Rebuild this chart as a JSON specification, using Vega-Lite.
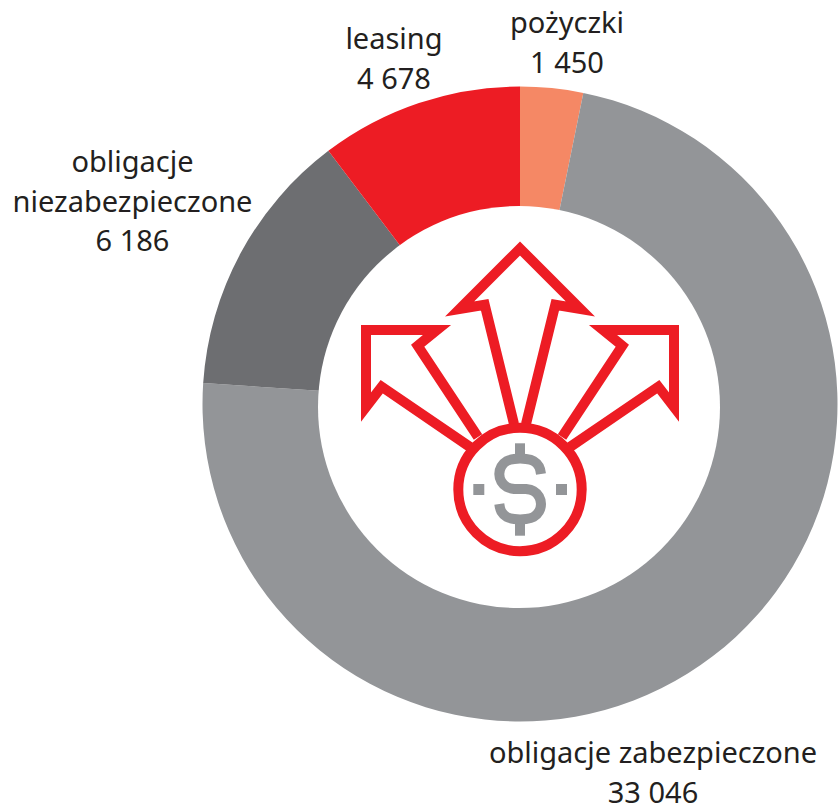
{
"$schema":"https://vega.github.io/schema/vega-lite/v6.json",
"width":838,"height":807,"padding":0,
"autosize":{"type":"none"},
"background":"white",
"view":{"stroke":null},
"datasets":{
"segments":[
{"kategoria":"pożyczki","wartosc":1450,"kolejnosc":1,"x":0,"y":0},
{"kategoria":"obligacje zabezpieczone","wartosc":33046,"kolejnosc":2,"x":0,"y":0},
{"kategoria":"obligacje niezabezpieczone","wartosc":6186,"kolejnosc":3,"x":0,"y":0},
{"kategoria":"leasing","wartosc":4678,"kolejnosc":4,"x":0,"y":0}],
"hole":[{"x":-1,"y":-3}],
"labels":[
{"etykieta":"pożyczki\n1 450","x":47,"y":371},
{"etykieta":"leasing\n4 678","x":-126,"y":355},
{"etykieta":"obligacje\nniezabezpieczone\n6 186","x":-387.5,"y":232},
{"etykieta":"obligacje zabezpieczone\n33 046","x":133,"y":-359}],
"arrows":[
{"p":"c","s":1,"x":-6,"y":-20},{"p":"c","s":2,"x":-35.3,"y":99.3},{"p":"c","s":3,"x":-60.4,"y":95.1},{"p":"c","s":4,"x":0,"y":155.5},{"p":"c","s":5,"x":60.4,"y":95.1},{"p":"c","s":6,"x":35.3,"y":99.3},{"p":"c","s":7,"x":6,"y":-20},
{"p":"l","s":1,"x":-50,"y":-43},{"p":"l","s":2,"x":-138.3,"y":17.3},{"p":"l","s":3,"x":-154,"y":-3},{"p":"l","s":4,"x":-154,"y":74},{"p":"l","s":5,"x":-83,"y":74},{"p":"l","s":6,"x":-102.3,"y":58.3},{"p":"l","s":7,"x":-42,"y":-33},
{"p":"r","s":1,"x":50,"y":-43},{"p":"r","s":2,"x":138.3,"y":17.3},{"p":"r","s":3,"x":154,"y":-3},{"p":"r","s":4,"x":154,"y":74},{"p":"r","s":5,"x":83,"y":74},{"p":"r","s":6,"x":102.3,"y":58.3},{"p":"r","s":7,"x":42,"y":-33}],
"coin":[{"x":0,"y":-85.5}],
"dollar":[
{"s":1,"x":21,"y":-70},{"s":2,"x":19,"y":-62.5},{"s":3,"x":13.5,"y":-57},{"s":4,"x":6,"y":-55},{"s":5,"x":-5.7,"y":-55},{"s":6,"x":-13.2,"y":-57},{"s":7,"x":-18.7,"y":-62.5},{"s":8,"x":-20.7,"y":-70},{"s":9,"x":-18.7,"y":-77.5},{"s":10,"x":-13.2,"y":-83},{"s":11,"x":-5.7,"y":-85},{"s":12,"x":6,"y":-85},{"s":13,"x":13.5,"y":-87},{"s":14,"x":19,"y":-92.5},{"s":15,"x":21,"y":-100},{"s":16,"x":19,"y":-107.5},{"s":17,"x":13.5,"y":-113},{"s":18,"x":6,"y":-115},{"s":19,"x":-5.7,"y":-115},{"s":20,"x":-13.2,"y":-113},{"s":21,"x":-18.7,"y":-107.5},{"s":22,"x":-20.7,"y":-100}],
"bars":[
{"p":"t","s":1,"x":0,"y":-39.3},{"p":"t","s":2,"x":0,"y":-52.7},
{"p":"b","s":1,"x":0,"y":-119.3},{"p":"b","s":2,"x":0,"y":-131.7}],
"dots":[{"x":-41.2,"y":-85.5},{"x":41.5,"y":-85.5}]
},
"encoding":{
"x":{"field":"x","type":"quantitative","axis":null,"scale":{"domain":[-520,318],"nice":false,"zero":false}},
"y":{"field":"y","type":"quantitative","axis":null,"scale":{"domain":[-403,404],"nice":false,"zero":false}}
},
"layer":[
{"data":{"name":"segments"},
"mark":{"type":"arc","radius":317.5,"radius2":190},
"encoding":{
"theta":{"field":"wartosc","type":"quantitative","stack":true},
"order":{"field":"kolejnosc","type":"quantitative"},
"color":{"field":"kategoria","type":"nominal","legend":null,
"scale":{"domain":["pożyczki","obligacje zabezpieczone","obligacje niezabezpieczone","leasing"],"range":["#f58865","#939598","#6d6e71","#ed1c24"]}}
}},
{"data":{"name":"hole"},
"mark":{"type":"point","shape":"circle","filled":true,"size":161604,"color":"white","opacity":1}},
{"data":{"name":"arrows"},
"mark":{"type":"line","color":"#ed1c24","strokeWidth":10,"strokeJoin":"miter","strokeMiterLimit":20,"strokeCap":"butt"},
"encoding":{"detail":{"field":"p"},"order":{"field":"s","type":"quantitative"}}},
{"data":{"name":"coin"},
"mark":{"type":"point","shape":"circle","filled":false,"size":15228,"stroke":"#ed1c24","strokeWidth":10,"opacity":1}},
{"data":{"name":"dollar"},
"mark":{"type":"line","color":"#939598","strokeWidth":10,"interpolate":"catmull-rom","strokeCap":"butt"},
"encoding":{"order":{"field":"s","type":"quantitative"}}},
{"data":{"name":"bars"},
"mark":{"type":"line","color":"#939598","strokeWidth":10,"strokeCap":"butt"},
"encoding":{"detail":{"field":"p"},"order":{"field":"s","type":"quantitative"}}},
{"data":{"name":"dots"},
"mark":{"type":"point","shape":"square","filled":true,"size":121,"color":"#939598","opacity":1}},
{"data":{"name":"labels"},
"mark":{"type":"text","font":"Noto Sans","fontSize":29,"color":"#231f20","align":"center","baseline":"alphabetic","lineBreak":"\n","lineHeight":39.5},
"encoding":{"text":{"field":"etykieta","type":"nominal"}}}
]
}
